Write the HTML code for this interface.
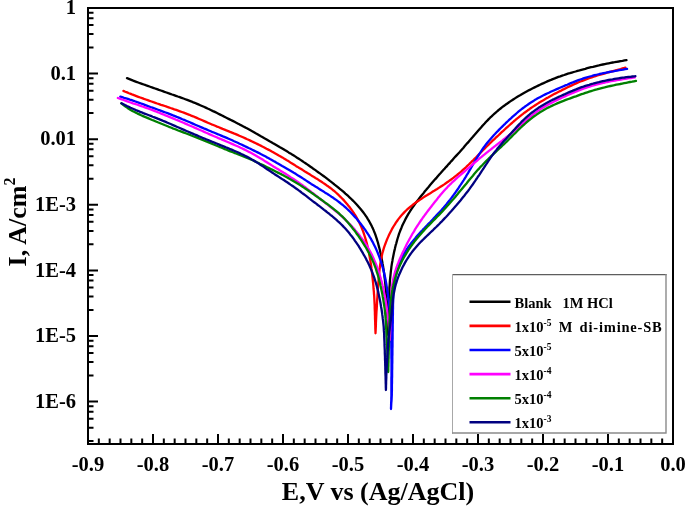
<!DOCTYPE html>
<html><head><meta charset="utf-8"><style>
html,body{margin:0;padding:0;background:#fff;}
svg{display:block;}
text{font-family:"Liberation Serif","Times New Roman",serif;font-weight:bold;fill:#000;}
</style></head><body>
<svg width="685" height="509" viewBox="0 0 685 509">
<rect width="685" height="509" fill="#fff"/>
<g font-size="20.5">
<text x="88.0" y="471" text-anchor="middle">-0.9</text><text x="153.0" y="471" text-anchor="middle">-0.8</text><text x="218.0" y="471" text-anchor="middle">-0.7</text><text x="283.0" y="471" text-anchor="middle">-0.6</text><text x="348.0" y="471" text-anchor="middle">-0.5</text><text x="413.0" y="471" text-anchor="middle">-0.4</text><text x="478.0" y="471" text-anchor="middle">-0.3</text><text x="543.0" y="471" text-anchor="middle">-0.2</text><text x="608.0" y="471" text-anchor="middle">-0.1</text><text x="673.0" y="471" text-anchor="middle">0.0</text>
<text x="76" y="14.2" text-anchor="end">1</text><text x="76" y="79.8" text-anchor="end">0.1</text><text x="76" y="145.4" text-anchor="end">0.01</text><text x="76" y="211.0" text-anchor="end">1E-3</text><text x="76" y="276.6" text-anchor="end">1E-4</text><text x="76" y="342.2" text-anchor="end">1E-5</text><text x="76" y="407.8" text-anchor="end">1E-6</text>
</g>
<g>
<polyline points="127.0,78.2 128.9,78.9 130.7,79.6 132.6,80.4 134.4,81.1 136.3,81.8 138.2,82.5 140.0,83.2 141.9,83.8 143.8,84.5 145.7,85.2 147.6,85.8 149.5,86.5 151.3,87.2 153.2,87.8 155.1,88.5 157.0,89.2 158.9,89.9 160.8,90.5 162.7,91.2 164.5,91.9 166.4,92.5 168.3,93.2 170.2,93.8 172.1,94.5 174.0,95.1 175.9,95.8 177.8,96.5 179.7,97.1 181.6,97.8 183.5,98.5 185.3,99.2 187.2,99.9 189.1,100.6 191.0,101.3 192.8,102.1 194.7,102.8 196.5,103.6 198.4,104.4 200.2,105.2 202.0,106.0 203.9,106.8 205.7,107.6 207.5,108.5 209.3,109.3 211.2,110.2 213.0,111.1 214.8,111.9 216.6,112.8 218.4,113.7 220.2,114.6 222.0,115.5 223.8,116.4 225.5,117.3 227.3,118.2 229.1,119.1 230.9,120.0 232.7,120.9 234.5,121.8 236.3,122.8 238.1,123.7 239.8,124.6 241.6,125.5 243.4,126.5 245.2,127.4 246.9,128.3 248.7,129.3 250.5,130.3 252.2,131.2 254.0,132.2 255.7,133.2 257.5,134.2 259.2,135.2 260.9,136.2 262.7,137.2 264.4,138.2 266.2,139.2 267.9,140.2 269.6,141.2 271.4,142.2 273.1,143.2 274.9,144.2 276.6,145.2 278.3,146.2 280.0,147.2 281.8,148.2 283.5,149.2 285.2,150.3 286.9,151.3 288.6,152.4 290.4,153.4 292.1,154.5 293.8,155.5 295.5,156.6 297.1,157.7 298.8,158.8 300.5,159.9 302.2,161.0 303.8,162.1 305.5,163.2 307.2,164.4 308.8,165.5 310.5,166.7 312.1,167.8 313.7,169.0 315.4,170.1 317.0,171.3 318.6,172.5 320.3,173.6 321.9,174.8 323.5,176.0 325.1,177.2 326.7,178.4 328.3,179.6 329.9,180.9 331.5,182.1 333.1,183.3 334.6,184.6 336.2,185.8 337.8,187.1 339.3,188.4 340.8,189.6 342.4,190.9 343.9,192.2 345.4,193.6 346.9,194.9 348.4,196.2 349.8,197.6 351.3,199.0 352.7,200.4 354.1,201.8 355.5,203.2 356.9,204.7 358.2,206.2 359.5,207.7 360.8,209.2 362.0,210.7 363.2,212.3 364.4,213.9 365.6,215.6 366.7,217.2 367.7,218.9 368.8,220.6 369.7,222.3 370.7,224.1 371.6,225.8 372.4,227.6 373.3,229.4 374.0,231.2 374.8,233.1 375.5,235.0 376.1,236.8 376.7,238.7 377.3,240.6 377.9,242.5 378.4,244.5 378.9,246.4 379.4,248.3 379.9,250.3 380.3,252.2 380.8,254.2 381.2,256.2 381.6,258.1 381.9,260.1 382.3,262.1 382.6,264.0 383.0,266.0 383.3,268.0 383.6,270.0 383.9,272.0 384.2,274.0 384.4,275.9 384.6,277.9 384.9,279.9 385.1,281.9 385.3,283.9 385.5,285.9 385.6,287.9 385.8,289.9 386.0,291.9 386.1,293.9 386.3,295.9 386.4,297.9 386.6,299.9 386.7,301.9 386.8,303.9 387.0,305.9 387.1,307.9 387.2,309.9 387.3,311.9 387.4,313.9 387.5,315.9 387.6,318.0 387.7,320.0 387.7,322.0 387.8,324.0 387.9,326.0 388.0,328.0 388.0,330.0 388.1,332.0 388.2,334.0 388.2,335.0 388.3,333.0 388.3,331.0 388.4,329.0 388.4,327.0 388.5,325.0 388.5,323.0 388.6,320.9 388.6,318.9 388.7,316.9 388.7,314.9 388.7,312.9 388.8,310.9 388.8,308.9 388.9,306.9 388.9,304.9 389.0,302.9 389.0,300.9 389.1,298.9 389.1,296.9 389.2,294.8 389.3,292.8 389.4,290.8 389.4,288.8 389.5,286.8 389.7,284.8 389.8,282.8 389.9,280.8 390.1,278.8 390.3,276.8 390.5,274.8 390.7,272.8 390.9,270.8 391.2,268.8 391.4,266.9 391.7,264.9 392.0,262.9 392.4,260.9 392.7,258.9 393.1,257.0 393.5,255.0 393.9,253.0 394.3,251.1 394.8,249.1 395.2,247.2 395.7,245.2 396.3,243.3 396.8,241.4 397.3,239.5 397.9,237.5 398.5,235.6 399.1,233.7 399.8,231.9 400.5,230.0 401.3,228.2 402.0,226.3 402.8,224.5 403.7,222.7 404.6,220.9 405.5,219.1 406.4,217.4 407.4,215.6 408.4,213.9 409.5,212.2 410.5,210.5 411.6,208.9 412.8,207.2 413.9,205.6 415.1,203.9 416.3,202.3 417.5,200.7 418.7,199.1 419.9,197.5 421.1,196.0 422.4,194.4 423.7,192.9 424.9,191.3 426.2,189.8 427.5,188.2 428.8,186.7 430.1,185.1 431.4,183.6 432.7,182.1 434.0,180.6 435.3,179.1 436.7,177.6 438.0,176.0 439.3,174.5 440.7,173.0 442.0,171.5 443.3,170.0 444.7,168.6 446.0,167.1 447.4,165.6 448.7,164.1 450.1,162.6 451.4,161.1 452.8,159.6 454.1,158.1 455.4,156.6 456.8,155.1 458.1,153.7 459.5,152.2 460.8,150.7 462.1,149.2 463.5,147.7 464.8,146.1 466.1,144.6 467.4,143.1 468.8,141.6 470.1,140.1 471.4,138.6 472.7,137.1 474.0,135.5 475.3,134.0 476.6,132.5 477.9,131.0 479.2,129.5 480.6,127.9 481.9,126.4 483.2,125.0 484.6,123.5 485.9,122.0 487.3,120.6 488.7,119.1 490.1,117.7 491.6,116.4 493.0,115.0 494.5,113.6 496.0,112.3 497.5,111.0 499.1,109.7 500.6,108.5 502.2,107.2 503.8,106.0 505.4,104.8 507.0,103.7 508.7,102.5 510.3,101.4 512.0,100.3 513.6,99.2 515.3,98.1 517.0,97.0 518.7,96.0 520.5,95.0 522.2,94.0 523.9,93.0 525.7,92.0 527.5,91.0 529.2,90.1 531.0,89.2 532.8,88.3 534.6,87.4 536.4,86.5 538.2,85.6 540.0,84.7 541.8,83.9 543.6,83.1 545.5,82.2 547.3,81.4 549.1,80.6 551.0,79.9 552.8,79.1 554.7,78.4 556.6,77.6 558.4,76.9 560.3,76.3 562.2,75.6 564.1,75.0 566.0,74.3 567.9,73.7 569.8,73.2 571.8,72.6 573.7,72.0 575.6,71.5 577.5,70.9 579.5,70.4 581.4,69.8 583.3,69.3 585.3,68.8 587.2,68.2 589.2,67.7 591.1,67.2 593.0,66.8 595.0,66.3 596.9,65.8 598.9,65.4 600.9,64.9 602.8,64.5 604.8,64.1 606.8,63.7 608.7,63.3 610.7,62.9 612.7,62.5 614.6,62.2 616.6,61.8 618.6,61.5 620.6,61.1 622.5,60.8 624.5,60.4 626.5,60.1" fill="none" stroke="#000000" stroke-width="2.3" stroke-linejoin="round" stroke-linecap="round"/><polyline points="123.4,90.9 125.3,91.7 127.1,92.4 129.0,93.2 130.8,93.9 132.7,94.7 134.6,95.4 136.4,96.1 138.3,96.8 140.2,97.5 142.1,98.2 144.0,98.9 145.8,99.5 147.7,100.2 149.6,100.9 151.5,101.5 153.4,102.2 155.3,102.8 157.2,103.5 159.1,104.1 161.0,104.8 162.9,105.4 164.8,106.0 166.7,106.7 168.6,107.3 170.5,108.0 172.4,108.6 174.3,109.3 176.2,109.9 178.1,110.6 180.0,111.3 181.9,112.0 183.8,112.7 185.6,113.4 187.5,114.1 189.4,114.8 191.2,115.6 193.1,116.3 195.0,117.1 196.8,117.9 198.6,118.7 200.5,119.5 202.3,120.3 204.2,121.1 206.0,121.9 207.8,122.7 209.7,123.5 211.5,124.3 213.4,125.0 215.2,125.8 217.1,126.6 218.9,127.3 220.8,128.1 222.6,128.9 224.5,129.6 226.4,130.4 228.2,131.1 230.1,131.9 231.9,132.6 233.8,133.4 235.7,134.1 237.5,134.9 239.3,135.7 241.2,136.5 243.0,137.3 244.9,138.1 246.7,139.0 248.5,139.8 250.3,140.6 252.1,141.5 254.0,142.4 255.8,143.2 257.6,144.1 259.4,145.0 261.2,145.9 262.9,146.8 264.7,147.7 266.5,148.7 268.3,149.6 270.1,150.5 271.8,151.5 273.6,152.5 275.3,153.4 277.1,154.4 278.8,155.4 280.6,156.4 282.3,157.4 284.0,158.5 285.7,159.5 287.4,160.6 289.1,161.6 290.8,162.7 292.5,163.7 294.2,164.8 295.9,165.9 297.6,166.9 299.3,168.0 301.1,169.1 302.8,170.1 304.5,171.2 306.2,172.2 307.9,173.3 309.6,174.3 311.3,175.4 313.0,176.4 314.7,177.5 316.4,178.6 318.1,179.6 319.8,180.7 321.5,181.8 323.1,182.9 324.8,184.0 326.4,185.2 328.1,186.3 329.7,187.5 331.3,188.7 332.8,190.0 334.4,191.2 335.9,192.5 337.4,193.9 338.8,195.2 340.2,196.6 341.6,198.0 343.0,199.4 344.4,200.9 345.7,202.4 347.0,203.9 348.2,205.5 349.5,207.0 350.7,208.6 351.8,210.2 353.0,211.9 354.1,213.5 355.2,215.2 356.2,216.9 357.2,218.6 358.1,220.4 359.1,222.1 359.9,223.9 360.8,225.7 361.6,227.5 362.3,229.4 363.0,231.2 363.7,233.1 364.3,235.0 364.9,236.9 365.5,238.8 366.1,240.7 366.6,242.6 367.1,244.6 367.6,246.5 368.0,248.5 368.5,250.4 368.9,252.4 369.2,254.4 369.6,256.3 369.9,258.3 370.3,260.3 370.6,262.3 370.9,264.2 371.2,266.2 371.4,268.2 371.7,270.2 371.9,272.2 372.2,274.2 372.4,276.2 372.6,278.2 372.8,280.2 373.0,282.2 373.2,284.2 373.4,286.2 373.5,288.2 373.7,290.2 373.9,292.2 374.0,294.2 374.2,296.2 374.3,298.2 374.4,300.2 374.5,302.2 374.6,304.2 374.7,306.2 374.7,308.2 374.8,310.2 374.9,312.2 374.9,314.2 375.0,316.2 375.0,318.2 375.1,320.3 375.2,322.3 375.2,324.3 375.3,326.3 375.3,328.3 375.4,330.3 375.5,332.3 375.5,333.3 375.6,331.3 375.7,329.3 375.8,327.3 375.9,325.3 375.9,323.3 376.0,321.3 376.1,319.3 376.2,317.3 376.3,315.3 376.4,313.2 376.5,311.2 376.7,309.2 376.8,307.2 376.9,305.2 377.0,303.2 377.1,301.2 377.2,299.2 377.4,297.2 377.5,295.2 377.6,293.2 377.8,291.2 377.9,289.2 378.0,287.2 378.2,285.2 378.3,283.2 378.5,281.2 378.7,279.2 378.8,277.2 379.0,275.2 379.2,273.2 379.4,271.2 379.6,269.2 379.9,267.2 380.1,265.2 380.4,263.3 380.7,261.3 381.1,259.3 381.5,257.4 381.9,255.4 382.3,253.5 382.9,251.5 383.4,249.6 384.0,247.7 384.6,245.8 385.3,244.0 386.0,242.1 386.7,240.3 387.5,238.4 388.3,236.6 389.1,234.8 390.0,233.0 390.9,231.2 391.8,229.4 392.8,227.7 393.8,226.0 394.9,224.3 395.9,222.7 397.1,221.0 398.2,219.4 399.4,217.9 400.7,216.3 402.0,214.8 403.3,213.4 404.7,211.9 406.1,210.5 407.5,209.2 409.0,207.9 410.5,206.6 412.1,205.4 413.6,204.1 415.2,203.0 416.9,201.8 418.5,200.7 420.2,199.6 421.8,198.5 423.5,197.4 425.2,196.3 426.9,195.3 428.6,194.2 430.3,193.2 432.0,192.1 433.7,191.1 435.4,190.0 437.1,189.0 438.8,187.9 440.5,186.8 442.2,185.7 443.9,184.6 445.5,183.5 447.2,182.3 448.8,181.2 450.4,180.0 452.0,178.8 453.6,177.6 455.2,176.3 456.8,175.1 458.3,173.8 459.9,172.6 461.4,171.3 462.9,169.9 464.4,168.6 465.9,167.3 467.3,165.9 468.8,164.5 470.2,163.1 471.6,161.7 473.1,160.3 474.5,158.9 475.9,157.5 477.3,156.0 478.7,154.6 480.1,153.2 481.5,151.7 482.9,150.3 484.3,148.9 485.7,147.4 487.2,146.0 488.6,144.6 490.0,143.2 491.5,141.8 492.9,140.4 494.4,139.1 495.8,137.7 497.3,136.3 498.8,135.0 500.2,133.6 501.7,132.2 503.2,130.9 504.7,129.5 506.1,128.2 507.6,126.8 509.1,125.5 510.6,124.2 512.1,122.8 513.6,121.5 515.2,120.2 516.7,118.9 518.3,117.7 519.8,116.4 521.4,115.1 523.0,113.9 524.5,112.7 526.2,111.5 527.8,110.3 529.4,109.2 531.0,108.0 532.7,106.9 534.4,105.8 536.0,104.7 537.7,103.6 539.4,102.5 541.1,101.5 542.9,100.5 544.6,99.5 546.3,98.4 548.1,97.5 549.8,96.5 551.6,95.5 553.3,94.6 555.1,93.6 556.9,92.7 558.7,91.8 560.5,90.9 562.2,89.9 564.0,89.1 565.8,88.2 567.6,87.3 569.5,86.4 571.3,85.6 573.1,84.7 574.9,83.9 576.7,83.1 578.6,82.3 580.4,81.5 582.3,80.8 584.2,80.1 586.0,79.4 587.9,78.7 589.8,78.0 591.7,77.4 593.6,76.7 595.5,76.1 597.4,75.5 599.3,75.0 601.3,74.4 603.2,73.8 605.1,73.3 607.0,72.7 609.0,72.2 610.9,71.7 612.8,71.1 614.8,70.6 616.7,70.0 618.6,69.5 620.6,69.0 622.5,68.4 624.4,67.9 625.4,67.6" fill="none" stroke="#ff0000" stroke-width="2.3" stroke-linejoin="round" stroke-linecap="round"/><polyline points="120.3,96.6 122.2,97.2 124.1,97.8 126.0,98.3 127.9,98.9 129.8,99.6 131.7,100.2 133.6,100.8 135.4,101.5 137.3,102.2 139.2,102.8 141.1,103.5 143.0,104.2 144.8,104.9 146.7,105.6 148.6,106.3 150.5,107.0 152.4,107.6 154.3,108.3 156.2,109.0 158.0,109.7 159.9,110.4 161.8,111.1 163.7,111.8 165.6,112.5 167.5,113.2 169.3,113.9 171.2,114.6 173.1,115.4 174.9,116.1 176.8,116.9 178.7,117.6 180.5,118.4 182.4,119.2 184.2,119.9 186.1,120.7 187.9,121.5 189.8,122.3 191.6,123.1 193.4,123.9 195.3,124.7 197.1,125.5 199.0,126.3 200.8,127.1 202.7,127.9 204.5,128.7 206.4,129.4 208.2,130.2 210.1,131.0 211.9,131.8 213.8,132.5 215.6,133.3 217.5,134.1 219.3,134.8 221.2,135.6 223.0,136.4 224.9,137.1 226.7,137.9 228.6,138.7 230.4,139.5 232.2,140.3 234.1,141.2 235.9,142.0 237.7,142.8 239.5,143.7 241.4,144.5 243.2,145.4 245.0,146.2 246.8,147.1 248.6,148.0 250.4,148.8 252.2,149.7 254.0,150.6 255.8,151.5 257.6,152.4 259.4,153.3 261.2,154.3 263.0,155.2 264.7,156.1 266.5,157.1 268.3,158.0 270.0,159.0 271.8,160.0 273.5,161.0 275.3,161.9 277.0,162.9 278.8,163.9 280.5,164.9 282.2,165.9 284.0,166.9 285.7,167.9 287.4,168.9 289.2,170.0 290.9,171.0 292.6,172.0 294.3,173.1 296.0,174.1 297.7,175.2 299.4,176.2 301.1,177.3 302.8,178.4 304.5,179.5 306.2,180.6 307.9,181.7 309.5,182.8 311.2,183.9 312.9,184.9 314.6,186.0 316.3,187.1 318.0,188.1 319.7,189.2 321.4,190.3 323.1,191.3 324.8,192.4 326.5,193.4 328.2,194.5 329.9,195.6 331.5,196.7 333.2,197.8 334.8,199.0 336.5,200.1 338.1,201.3 339.6,202.5 341.2,203.8 342.8,205.0 344.3,206.3 345.8,207.7 347.2,209.0 348.7,210.4 350.1,211.8 351.5,213.2 352.9,214.7 354.2,216.1 355.6,217.6 356.9,219.1 358.2,220.7 359.4,222.2 360.7,223.8 361.9,225.4 363.1,227.0 364.3,228.6 365.4,230.2 366.5,231.9 367.6,233.5 368.7,235.2 369.7,236.9 370.8,238.6 371.7,240.4 372.7,242.1 373.6,243.9 374.5,245.7 375.4,247.5 376.2,249.3 377.0,251.1 377.8,253.0 378.5,254.8 379.2,256.7 379.9,258.6 380.6,260.5 381.2,262.4 381.8,264.3 382.3,266.2 382.9,268.1 383.4,270.1 383.9,272.0 384.3,274.0 384.7,275.9 385.2,277.9 385.6,279.8 385.9,281.8 386.3,283.8 386.6,285.8 386.9,287.7 387.2,289.7 387.5,291.7 387.8,293.7 388.1,295.7 388.3,297.7 388.6,299.7 388.8,301.7 389.0,303.7 389.2,305.7 389.4,307.7 389.6,309.7 389.8,311.7 390.0,313.6 390.1,315.7 390.3,317.7 390.4,319.7 390.6,321.7 390.7,323.7 390.8,325.7 390.9,327.7 391.0,329.7 391.0,331.7 391.1,333.7 391.1,335.7 391.2,337.7 391.2,339.7 391.2,341.7 391.3,343.7 391.3,345.7 391.3,347.7 391.4,349.8 391.4,351.8 391.4,353.8 391.4,355.8 391.4,357.8 391.5,359.8 391.5,361.8 391.5,363.8 391.5,365.8 391.5,367.8 391.5,369.8 391.5,371.8 391.5,373.9 391.5,375.9 391.4,377.9 391.4,379.9 391.4,381.9 391.4,383.9 391.4,385.9 391.4,387.9 391.4,389.9 391.4,391.9 391.4,393.9 391.4,395.9 391.3,398.0 391.3,400.0 391.2,402.0 391.1,404.0 391.1,406.0 391.0,408.0 391.0,409.0 391.1,407.0 391.2,405.0 391.3,403.0 391.5,401.0 391.6,399.0 391.7,397.0 391.8,395.0 391.8,393.0 391.9,391.0 391.9,388.9 391.9,386.9 391.9,384.9 392.0,382.9 392.0,380.9 392.0,378.9 392.1,376.9 392.1,374.9 392.1,372.9 392.1,370.9 392.2,368.9 392.2,366.9 392.2,364.8 392.3,362.8 392.3,360.8 392.3,358.8 392.3,356.8 392.4,354.8 392.4,352.8 392.4,350.8 392.4,348.8 392.5,346.8 392.5,344.8 392.5,342.8 392.5,340.8 392.6,338.7 392.6,336.7 392.6,334.7 392.6,332.7 392.7,330.7 392.7,328.7 392.7,326.7 392.7,324.7 392.8,322.7 392.8,320.7 392.8,318.7 392.8,316.7 392.9,314.7 392.9,312.6 392.9,310.6 393.0,308.6 393.0,306.6 393.0,304.6 393.1,302.6 393.2,300.6 393.2,298.6 393.3,296.6 393.4,294.6 393.6,292.6 393.7,290.6 393.9,288.6 394.1,286.6 394.3,284.7 394.6,282.7 394.9,280.7 395.2,278.7 395.6,276.8 396.0,274.8 396.5,272.9 397.0,271.0 397.5,269.1 398.1,267.2 398.7,265.3 399.4,263.5 400.1,261.6 400.9,259.8 401.7,258.0 402.6,256.3 403.6,254.5 404.6,252.8 405.6,251.1 406.7,249.4 407.8,247.8 408.9,246.2 410.1,244.6 411.3,243.0 412.6,241.4 413.8,239.9 415.1,238.4 416.4,236.8 417.7,235.3 419.1,233.8 420.4,232.4 421.8,230.9 423.1,229.4 424.5,228.0 425.9,226.5 427.3,225.1 428.7,223.6 430.1,222.2 431.5,220.7 432.9,219.3 434.2,217.8 435.6,216.4 437.0,214.9 438.4,213.4 439.7,212.0 441.1,210.5 442.4,209.0 443.7,207.5 445.0,205.9 446.3,204.4 447.6,202.8 448.8,201.3 450.1,199.7 451.3,198.1 452.5,196.5 453.7,194.9 454.9,193.3 456.0,191.7 457.2,190.0 458.3,188.4 459.4,186.7 460.5,185.0 461.6,183.3 462.7,181.7 463.8,180.0 464.8,178.3 465.9,176.6 466.9,174.8 468.0,173.1 469.0,171.4 470.0,169.7 471.0,167.9 472.0,166.2 473.0,164.5 474.1,162.7 475.1,161.0 476.1,159.3 477.1,157.6 478.2,155.9 479.2,154.2 480.3,152.5 481.4,150.8 482.5,149.2 483.7,147.5 484.9,145.9 486.1,144.3 487.3,142.8 488.6,141.2 489.9,139.7 491.2,138.2 492.5,136.7 493.8,135.2 495.2,133.8 496.6,132.3 498.0,130.9 499.4,129.4 500.8,128.0 502.2,126.6 503.6,125.2 505.1,123.8 506.5,122.4 508.0,121.0 509.4,119.6 510.9,118.3 512.4,116.9 513.9,115.6 515.4,114.3 516.9,113.0 518.4,111.7 520.0,110.4 521.6,109.2 523.1,108.0 524.7,106.8 526.4,105.6 528.0,104.5 529.7,103.3 531.3,102.3 533.0,101.2 534.7,100.1 536.5,99.1 538.2,98.1 539.9,97.2 541.7,96.2 543.5,95.3 545.3,94.4 547.1,93.5 548.9,92.7 550.7,91.8 552.5,91.0 554.3,90.2 556.2,89.4 558.0,88.6 559.9,87.8 561.7,87.0 563.5,86.2 565.4,85.4 567.2,84.7 569.1,83.9 570.9,83.1 572.8,82.4 574.7,81.6 576.5,80.9 578.4,80.2 580.3,79.5 582.2,78.9 584.1,78.2 586.0,77.6 587.9,77.0 589.8,76.5 591.7,76.0 593.6,75.4 595.6,75.0 597.5,74.5 599.5,74.0 601.4,73.6 603.4,73.2 605.4,72.8 607.3,72.4 609.3,72.0 611.3,71.6 613.3,71.3 615.2,70.9 617.2,70.6 619.2,70.2 621.2,69.9 623.1,69.6 625.1,69.2 627.1,68.9" fill="none" stroke="#0000ff" stroke-width="2.3" stroke-linejoin="round" stroke-linecap="round"/><polyline points="117.9,98.0 119.8,98.7 121.7,99.3 123.5,100.0 125.4,100.7 127.3,101.3 129.2,102.0 131.1,102.6 133.0,103.3 134.9,103.9 136.8,104.5 138.7,105.2 140.5,105.8 142.4,106.5 144.3,107.1 146.2,107.8 148.1,108.5 150.0,109.2 151.9,109.9 153.7,110.6 155.6,111.3 157.5,112.1 159.3,112.8 161.2,113.6 163.1,114.3 164.9,115.1 166.8,115.8 168.6,116.6 170.5,117.4 172.3,118.1 174.2,118.9 176.1,119.7 177.9,120.4 179.8,121.2 181.6,122.0 183.5,122.8 185.3,123.6 187.2,124.4 189.0,125.2 190.8,126.0 192.7,126.8 194.5,127.6 196.4,128.4 198.2,129.2 200.0,130.0 201.9,130.8 203.7,131.6 205.5,132.5 207.4,133.3 209.2,134.1 211.0,134.9 212.9,135.7 214.7,136.5 216.6,137.3 218.4,138.1 220.3,138.8 222.1,139.6 224.0,140.4 225.8,141.2 227.7,142.0 229.5,142.8 231.4,143.6 233.2,144.4 235.0,145.2 236.9,146.0 238.7,146.8 240.5,147.7 242.3,148.5 244.1,149.4 245.9,150.3 247.7,151.2 249.5,152.1 251.3,153.1 253.0,154.0 254.8,155.0 256.5,156.0 258.2,157.0 259.9,158.0 261.7,159.1 263.4,160.1 265.1,161.2 266.8,162.2 268.4,163.3 270.1,164.3 271.8,165.4 273.5,166.5 275.2,167.5 276.9,168.6 278.6,169.6 280.4,170.7 282.1,171.7 283.8,172.8 285.5,173.8 287.2,174.9 288.9,176.0 290.5,177.1 292.2,178.2 293.9,179.3 295.6,180.4 297.2,181.5 298.9,182.6 300.5,183.8 302.1,185.0 303.7,186.2 305.4,187.3 306.9,188.6 308.5,189.8 310.1,191.0 311.7,192.3 313.3,193.5 314.8,194.7 316.4,196.0 318.0,197.2 319.5,198.5 321.1,199.7 322.7,200.9 324.3,202.2 325.9,203.4 327.5,204.6 329.1,205.8 330.6,207.1 332.2,208.3 333.8,209.6 335.3,210.8 336.9,212.1 338.4,213.4 339.9,214.7 341.4,216.0 342.9,217.4 344.3,218.7 345.8,220.1 347.2,221.5 348.6,223.0 350.0,224.4 351.4,225.9 352.7,227.3 354.1,228.8 355.4,230.4 356.7,231.9 357.9,233.4 359.2,235.0 360.4,236.6 361.6,238.1 362.8,239.8 364.0,241.4 365.1,243.0 366.2,244.7 367.2,246.4 368.2,248.1 369.2,249.8 370.2,251.6 371.1,253.3 372.1,255.1 372.9,256.9 373.7,258.7 374.5,260.6 375.3,262.4 376.0,264.3 376.8,266.1 377.4,268.0 378.1,269.9 378.7,271.8 379.3,273.7 379.9,275.6 380.5,277.6 381.0,279.5 381.6,281.4 382.1,283.4 382.5,285.3 383.0,287.3 383.4,289.2 383.8,291.2 384.2,293.2 384.6,295.1 385.0,297.1 385.3,299.1 385.7,301.1 386.0,303.1 386.3,305.0 386.6,307.0 386.9,309.0 387.1,311.0 387.4,313.0 387.7,315.0 387.9,317.0 388.1,319.0 388.3,321.0 388.5,323.0 388.7,325.0 388.9,327.0 389.1,329.0 389.2,331.0 389.4,333.0 389.5,335.0 389.6,337.0 389.7,339.0 389.8,340.0 389.9,338.0 390.0,336.0 390.1,334.0 390.2,332.0 390.2,330.0 390.3,328.0 390.3,325.9 390.4,323.9 390.4,321.9 390.5,319.9 390.5,317.9 390.5,315.9 390.6,313.9 390.6,311.9 390.7,309.9 390.7,307.9 390.8,305.9 390.8,303.9 390.9,301.8 391.0,299.8 391.1,297.8 391.2,295.8 391.3,293.8 391.5,291.8 391.7,289.8 391.9,287.8 392.1,285.8 392.4,283.9 392.7,281.9 393.1,279.9 393.5,278.0 394.0,276.0 394.5,274.1 395.0,272.2 395.6,270.3 396.2,268.4 396.9,266.5 397.5,264.6 398.3,262.7 399.0,260.9 399.8,259.0 400.6,257.2 401.4,255.4 402.2,253.6 403.1,251.8 404.0,250.0 404.8,248.2 405.7,246.4 406.6,244.6 407.5,242.8 408.5,241.0 409.4,239.3 410.4,237.5 411.4,235.7 412.3,234.0 413.4,232.3 414.4,230.6 415.4,228.8 416.5,227.1 417.6,225.5 418.7,223.8 419.8,222.1 420.9,220.5 422.1,218.8 423.2,217.2 424.4,215.6 425.6,214.0 426.8,212.4 428.0,210.8 429.2,209.2 430.5,207.6 431.7,206.0 432.9,204.4 434.2,202.8 435.4,201.3 436.7,199.7 437.9,198.1 439.2,196.6 440.4,195.0 441.7,193.5 443.0,192.0 444.3,190.5 445.7,189.0 447.1,187.6 448.4,186.1 449.8,184.7 451.3,183.3 452.7,181.9 454.2,180.6 455.7,179.2 457.1,177.9 458.6,176.5 460.2,175.2 461.7,173.9 463.2,172.6 464.7,171.3 466.2,170.0 467.7,168.6 469.3,167.3 470.8,166.0 472.3,164.7 473.8,163.4 475.3,162.1 476.9,160.8 478.4,159.5 479.9,158.2 481.5,156.9 483.0,155.6 484.6,154.4 486.1,153.1 487.7,151.8 489.3,150.6 490.9,149.4 492.4,148.1 494.0,146.9 495.6,145.7 497.2,144.4 498.8,143.2 500.4,142.0 502.0,140.8 503.6,139.5 505.1,138.3 506.7,137.0 508.3,135.8 509.8,134.5 511.4,133.2 512.9,132.0 514.5,130.7 516.0,129.4 517.5,128.0 519.0,126.7 520.5,125.4 522.0,124.1 523.5,122.7 525.0,121.4 526.5,120.1 528.0,118.8 529.5,117.5 531.0,116.2 532.6,114.9 534.1,113.7 535.7,112.5 537.3,111.3 539.0,110.2 540.6,109.1 542.3,108.0 544.0,107.0 545.7,106.0 547.5,105.0 549.2,104.0 551.0,103.1 552.8,102.2 554.5,101.3 556.3,100.4 558.2,99.5 560.0,98.7 561.8,97.8 563.6,97.0 565.4,96.2 567.3,95.3 569.1,94.5 570.9,93.7 572.8,92.9 574.6,92.1 576.5,91.4 578.3,90.6 580.2,89.9 582.1,89.2 584.0,88.5 585.8,87.9 587.7,87.2 589.6,86.6 591.6,86.0 593.5,85.5 595.4,84.9 597.3,84.4 599.3,83.9 601.2,83.4 603.2,82.9 605.1,82.5 607.1,82.0 609.1,81.6 611.0,81.2 613.0,80.8 615.0,80.5 616.9,80.1 618.9,79.8 620.9,79.5 622.9,79.1 624.9,78.8 626.8,78.5 628.8,78.2 630.8,78.0 632.8,77.7 634.8,77.4" fill="none" stroke="#ff00ff" stroke-width="2.3" stroke-linejoin="round" stroke-linecap="round"/><polyline points="121.2,103.4 122.8,104.5 124.3,105.7 125.9,106.8 127.5,107.9 129.1,108.9 130.7,109.9 132.4,110.9 134.1,111.8 135.9,112.7 137.6,113.6 139.4,114.4 141.2,115.3 143.0,116.1 144.9,116.9 146.7,117.6 148.5,118.4 150.4,119.2 152.2,120.0 154.1,120.7 155.9,121.5 157.8,122.3 159.6,123.0 161.5,123.8 163.3,124.5 165.2,125.3 167.0,126.0 168.9,126.8 170.8,127.5 172.6,128.3 174.5,129.0 176.4,129.7 178.2,130.5 180.1,131.2 182.0,131.9 183.9,132.6 185.7,133.3 187.6,134.0 189.5,134.7 191.4,135.5 193.2,136.2 195.1,136.9 197.0,137.6 198.8,138.4 200.7,139.1 202.6,139.9 204.4,140.6 206.3,141.4 208.1,142.1 210.0,142.9 211.8,143.7 213.7,144.5 215.5,145.2 217.4,146.0 219.2,146.8 221.1,147.5 222.9,148.3 224.8,149.1 226.6,149.8 228.5,150.6 230.4,151.3 232.2,152.0 234.1,152.8 236.0,153.5 237.8,154.2 239.7,155.0 241.6,155.7 243.4,156.4 245.3,157.2 247.1,158.0 249.0,158.7 250.8,159.5 252.7,160.3 254.5,161.1 256.3,162.0 258.1,162.8 259.9,163.7 261.7,164.5 263.5,165.4 265.3,166.3 267.1,167.2 268.9,168.1 270.7,169.0 272.5,169.9 274.3,170.8 276.1,171.7 277.9,172.6 279.7,173.5 281.5,174.4 283.2,175.3 285.0,176.3 286.8,177.2 288.5,178.2 290.3,179.2 292.0,180.2 293.7,181.2 295.4,182.2 297.1,183.3 298.8,184.3 300.5,185.4 302.2,186.5 303.9,187.6 305.6,188.7 307.2,189.8 308.9,191.0 310.5,192.1 312.2,193.3 313.8,194.4 315.4,195.6 317.1,196.7 318.7,197.9 320.3,199.0 322.0,200.2 323.6,201.4 325.2,202.6 326.8,203.7 328.4,204.9 330.0,206.1 331.6,207.3 333.2,208.6 334.7,209.8 336.3,211.1 337.8,212.4 339.3,213.7 340.7,215.1 342.2,216.4 343.6,217.8 345.0,219.3 346.3,220.7 347.7,222.2 349.0,223.7 350.2,225.2 351.5,226.8 352.7,228.4 354.0,229.9 355.2,231.5 356.3,233.2 357.5,234.8 358.7,236.4 359.8,238.1 360.9,239.7 362.0,241.4 363.1,243.1 364.2,244.8 365.2,246.5 366.3,248.2 367.2,249.9 368.2,251.7 369.2,253.4 370.1,255.2 371.0,257.0 371.8,258.8 372.6,260.6 373.4,262.4 374.2,264.3 374.9,266.1 375.6,268.0 376.2,269.9 376.8,271.8 377.4,273.7 378.0,275.6 378.5,277.5 379.0,279.4 379.5,281.4 380.0,283.3 380.4,285.3 380.9,287.2 381.3,289.2 381.7,291.1 382.1,293.1 382.5,295.1 382.8,297.0 383.2,299.0 383.5,301.0 383.8,303.0 384.1,304.9 384.4,306.9 384.7,308.9 384.9,310.9 385.1,312.9 385.3,314.9 385.5,316.9 385.6,318.9 385.8,320.9 385.9,322.9 386.0,324.9 386.1,326.9 386.2,328.9 386.3,330.9 386.4,332.9 386.5,334.9 386.6,336.9 386.7,338.9 386.8,340.9 386.9,342.9 387.0,344.9 387.1,346.9 387.2,348.9 387.3,351.0 387.4,353.0 387.5,355.0 387.6,357.0 387.7,359.0 387.7,361.0 387.8,363.0 387.9,365.0 388.0,367.0 388.1,369.0 388.2,371.0 388.2,372.0 388.3,370.0 388.3,368.0 388.4,366.0 388.4,364.0 388.5,362.0 388.5,360.0 388.6,358.0 388.6,356.0 388.7,354.0 388.7,351.9 388.8,349.9 388.8,347.9 388.9,345.9 388.9,343.9 389.0,341.9 389.0,339.9 389.1,337.9 389.1,335.9 389.2,333.9 389.2,331.9 389.3,329.9 389.3,327.9 389.4,325.9 389.4,323.9 389.5,321.9 389.6,319.9 389.7,317.9 389.7,315.9 389.8,313.9 389.9,311.9 390.1,309.9 390.2,307.8 390.3,305.9 390.5,303.9 390.7,301.9 390.9,299.9 391.1,297.9 391.4,295.9 391.7,293.9 392.0,292.0 392.4,290.0 392.7,288.0 393.2,286.1 393.6,284.1 394.1,282.2 394.6,280.3 395.1,278.4 395.7,276.5 396.3,274.6 396.9,272.7 397.6,270.8 398.3,269.0 399.1,267.2 399.9,265.3 400.8,263.5 401.6,261.8 402.5,260.0 403.5,258.2 404.5,256.5 405.5,254.8 406.5,253.1 407.6,251.4 408.6,249.7 409.8,248.0 410.9,246.4 412.1,244.8 413.2,243.2 414.4,241.6 415.7,240.0 416.9,238.5 418.2,236.9 419.5,235.4 420.8,233.9 422.1,232.4 423.5,230.9 424.8,229.4 426.2,228.0 427.6,226.5 429.0,225.1 430.4,223.7 431.8,222.2 433.2,220.8 434.6,219.4 436.0,217.9 437.4,216.5 438.8,215.1 440.2,213.6 441.6,212.2 443.0,210.7 444.3,209.3 445.7,207.8 447.0,206.3 448.4,204.8 449.7,203.3 451.0,201.8 452.3,200.3 453.7,198.8 455.0,197.3 456.2,195.7 457.5,194.2 458.8,192.6 460.1,191.1 461.4,189.6 462.7,188.0 463.9,186.5 465.2,184.9 466.5,183.4 467.8,181.8 469.0,180.3 470.3,178.7 471.6,177.2 472.9,175.7 474.2,174.1 475.5,172.6 476.8,171.1 478.1,169.6 479.5,168.1 480.8,166.6 482.2,165.2 483.6,163.7 485.0,162.3 486.4,160.9 487.8,159.5 489.2,158.1 490.6,156.7 492.1,155.3 493.6,153.9 495.0,152.6 496.5,151.2 497.9,149.8 499.4,148.5 500.9,147.1 502.3,145.7 503.8,144.4 505.2,143.0 506.7,141.6 508.1,140.2 509.5,138.8 510.9,137.4 512.3,135.9 513.7,134.5 515.2,133.1 516.6,131.7 518.0,130.3 519.4,128.9 520.9,127.5 522.3,126.1 523.8,124.8 525.3,123.5 526.8,122.2 528.3,120.9 529.9,119.6 531.5,118.4 533.0,117.2 534.6,116.0 536.3,114.9 537.9,113.7 539.6,112.6 541.3,111.6 543.0,110.5 544.7,109.5 546.4,108.6 548.2,107.6 550.0,106.7 551.8,105.9 553.6,105.0 555.4,104.2 557.2,103.4 559.1,102.6 560.9,101.9 562.8,101.2 564.6,100.4 566.5,99.7 568.4,99.0 570.3,98.3 572.1,97.6 574.0,96.9 575.9,96.3 577.8,95.6 579.7,94.9 581.6,94.2 583.5,93.6 585.4,92.9 587.3,92.3 589.2,91.7 591.1,91.1 593.0,90.5 594.9,89.9 596.8,89.4 598.8,88.8 600.7,88.3 602.6,87.8 604.6,87.4 606.5,86.9 608.5,86.4 610.4,86.0 612.4,85.6 614.4,85.2 616.3,84.7 618.3,84.3 620.2,84.0 622.2,83.6 624.2,83.2 626.2,82.8 628.1,82.4 630.1,82.0 632.1,81.7 634.0,81.3 636.0,80.9" fill="none" stroke="#008000" stroke-width="2.3" stroke-linejoin="round" stroke-linecap="round"/><polyline points="121.6,103.3 123.4,104.2 125.1,105.1 126.9,106.0 128.7,106.8 130.5,107.7 132.3,108.5 134.1,109.3 135.9,110.1 137.8,110.8 139.6,111.6 141.5,112.3 143.3,113.1 145.2,113.8 147.1,114.5 148.9,115.2 150.8,115.9 152.7,116.7 154.5,117.4 156.4,118.1 158.3,118.9 160.1,119.6 162.0,120.4 163.8,121.2 165.7,121.9 167.5,122.7 169.4,123.5 171.2,124.3 173.0,125.1 174.9,125.9 176.7,126.7 178.6,127.5 180.4,128.3 182.2,129.1 184.1,129.9 185.9,130.7 187.7,131.5 189.6,132.3 191.4,133.1 193.3,133.9 195.1,134.7 197.0,135.4 198.8,136.2 200.7,137.0 202.5,137.8 204.4,138.5 206.2,139.3 208.1,140.0 209.9,140.8 211.8,141.6 213.6,142.3 215.5,143.1 217.3,143.8 219.2,144.6 221.1,145.4 222.9,146.1 224.8,146.9 226.6,147.7 228.5,148.4 230.3,149.2 232.2,149.9 234.0,150.7 235.9,151.5 237.7,152.3 239.5,153.1 241.3,154.0 243.1,154.8 244.9,155.7 246.7,156.6 248.5,157.5 250.2,158.5 251.9,159.5 253.7,160.5 255.4,161.5 257.1,162.6 258.7,163.6 260.4,164.7 262.1,165.8 263.8,166.9 265.4,168.1 267.1,169.2 268.8,170.3 270.4,171.4 272.1,172.5 273.8,173.6 275.4,174.7 277.1,175.8 278.8,176.9 280.5,178.0 282.2,179.1 283.8,180.1 285.5,181.2 287.2,182.3 288.9,183.5 290.5,184.6 292.2,185.7 293.8,186.8 295.4,188.0 297.1,189.2 298.7,190.4 300.3,191.5 301.9,192.8 303.5,194.0 305.1,195.2 306.7,196.4 308.2,197.6 309.8,198.9 311.4,200.1 313.0,201.3 314.6,202.5 316.2,203.7 317.8,205.0 319.4,206.2 321.0,207.4 322.6,208.6 324.1,209.8 325.7,211.0 327.3,212.3 328.9,213.5 330.4,214.8 332.0,216.0 333.5,217.3 335.0,218.6 336.5,219.9 338.0,221.3 339.5,222.6 340.9,224.0 342.3,225.4 343.7,226.9 345.1,228.3 346.4,229.8 347.7,231.3 349.0,232.8 350.2,234.4 351.5,235.9 352.7,237.5 353.9,239.1 355.0,240.8 356.1,242.4 357.3,244.1 358.4,245.7 359.4,247.4 360.5,249.1 361.5,250.8 362.6,252.6 363.5,254.3 364.5,256.0 365.5,257.8 366.4,259.6 367.3,261.3 368.2,263.1 369.1,264.9 369.9,266.7 370.7,268.6 371.5,270.4 372.2,272.2 372.9,274.1 373.6,276.0 374.3,277.9 374.9,279.8 375.5,281.7 376.1,283.6 376.6,285.5 377.1,287.4 377.6,289.4 378.1,291.3 378.5,293.3 378.9,295.2 379.3,297.2 379.7,299.1 380.1,301.1 380.5,303.1 380.8,305.0 381.1,307.0 381.5,309.0 381.8,311.0 382.1,313.0 382.3,314.9 382.6,316.9 382.8,318.9 383.1,320.9 383.3,322.9 383.5,324.9 383.7,326.9 383.8,328.9 383.9,330.9 384.1,332.9 384.2,334.9 384.2,336.9 384.3,338.9 384.4,340.9 384.5,342.9 384.5,344.9 384.6,346.9 384.7,348.9 384.8,350.9 384.8,352.9 384.9,354.9 385.0,356.9 385.0,358.9 385.1,360.9 385.2,362.9 385.2,364.9 385.3,366.9 385.3,369.0 385.4,371.0 385.4,373.0 385.5,375.0 385.6,377.0 385.6,379.0 385.7,381.0 385.7,383.0 385.8,385.0 385.8,387.0 385.9,389.0 385.9,390.0 386.0,388.0 386.0,386.0 386.1,384.0 386.1,382.0 386.2,380.0 386.3,378.0 386.3,376.0 386.4,374.0 386.5,372.0 386.5,370.0 386.6,367.9 386.8,365.9 386.9,363.9 387.0,361.9 387.1,359.9 387.3,357.9 387.4,355.9 387.5,353.9 387.6,351.9 387.8,349.9 387.9,347.9 388.0,345.9 388.1,343.9 388.3,341.9 388.4,339.9 388.6,337.9 388.8,335.9 389.0,333.9 389.2,332.0 389.5,330.0 389.8,328.0 390.1,326.0 390.4,324.1 390.6,322.1 390.9,320.1 391.1,318.1 391.3,316.1 391.5,314.1 391.7,312.2 391.8,310.2 392.0,308.2 392.2,306.2 392.4,304.2 392.6,302.2 392.8,300.2 393.1,298.3 393.3,296.3 393.6,294.3 394.0,292.4 394.4,290.4 394.8,288.5 395.2,286.6 395.7,284.7 396.3,282.8 396.9,280.9 397.5,279.0 398.2,277.2 398.9,275.3 399.7,273.5 400.5,271.7 401.3,269.9 402.2,268.1 403.0,266.3 404.0,264.6 404.9,262.9 405.9,261.1 406.9,259.5 408.0,257.8 409.1,256.1 410.2,254.5 411.4,252.9 412.6,251.3 413.8,249.8 415.1,248.2 416.4,246.7 417.7,245.2 419.0,243.8 420.4,242.3 421.8,240.9 423.2,239.5 424.6,238.1 426.1,236.7 427.5,235.3 429.0,233.9 430.4,232.5 431.9,231.1 433.3,229.8 434.7,228.4 436.2,227.0 437.6,225.6 439.0,224.2 440.4,222.7 441.9,221.3 443.2,219.9 444.6,218.4 446.0,217.0 447.4,215.5 448.7,214.0 450.0,212.5 451.4,211.0 452.7,209.5 454.0,208.0 455.3,206.5 456.6,205.0 457.9,203.4 459.2,201.9 460.5,200.4 461.8,198.8 463.0,197.3 464.3,195.7 465.5,194.1 466.8,192.5 468.0,191.0 469.2,189.4 470.4,187.7 471.5,186.1 472.7,184.5 473.8,182.9 475.0,181.2 476.1,179.5 477.2,177.9 478.3,176.2 479.5,174.6 480.6,172.9 481.7,171.2 482.8,169.5 483.9,167.9 485.0,166.2 486.1,164.5 487.2,162.8 488.3,161.2 489.4,159.5 490.5,157.9 491.7,156.2 492.8,154.6 494.0,153.0 495.2,151.4 496.5,149.9 497.7,148.3 499.0,146.8 500.3,145.3 501.6,143.8 502.9,142.3 504.2,140.8 505.6,139.4 506.9,137.9 508.2,136.4 509.6,134.9 510.9,133.5 512.2,132.0 513.5,130.5 514.9,129.0 516.2,127.5 517.5,126.1 518.9,124.6 520.3,123.2 521.6,121.7 523.1,120.3 524.5,119.0 526.0,117.6 527.4,116.3 529.0,115.0 530.5,113.7 532.0,112.5 533.6,111.3 535.2,110.1 536.9,109.0 538.5,107.8 540.2,106.8 541.9,105.7 543.6,104.7 545.3,103.7 547.0,102.7 548.8,101.8 550.6,100.8 552.3,99.9 554.1,99.1 555.9,98.2 557.7,97.4 559.5,96.5 561.4,95.7 563.2,94.9 565.0,94.1 566.8,93.2 568.7,92.4 570.5,91.6 572.3,90.9 574.2,90.1 576.0,89.4 577.9,88.6 579.7,87.9 581.6,87.2 583.5,86.6 585.4,85.9 587.3,85.3 589.2,84.8 591.1,84.2 593.1,83.7 595.0,83.1 596.9,82.6 598.9,82.2 600.8,81.7 602.8,81.2 604.7,80.8 606.7,80.4 608.6,80.0 610.6,79.6 612.6,79.3 614.5,78.9 616.5,78.6 618.5,78.3 620.5,78.0 622.5,77.7 624.5,77.5 626.4,77.2 628.4,77.0 630.4,76.8 632.4,76.5 634.4,76.3 635.4,76.2" fill="none" stroke="#000080" stroke-width="2.3" stroke-linejoin="round" stroke-linecap="round"/>
</g>
<path d="M452,274.6H666.6" stroke="#5e5e5e" stroke-width="1.3" fill="none"/><path d="M452.5,274V433.6" stroke="#a8a8a8" stroke-width="1" fill="none"/><path d="M666,274V433.6M452,433H666.6" stroke="#8a8a8a" stroke-width="1.4" fill="none"/>
<g font-size="14.5">
<line x1="469.5" y1="301.8" x2="510.5" y2="301.8" stroke="#000000" stroke-width="2.6"/><text x="514.5" y="307.8">Blank &#160; 1M HCl</text><line x1="469.5" y1="325.9" x2="510.5" y2="325.9" stroke="#ff0000" stroke-width="2.6"/><text x="514.5" y="331.9">1x10<tspan dy="-6" font-size="9.5">-5</tspan><tspan dy="6"> &#160;M &#160;</tspan><tspan letter-spacing="0.8">di-imine-SB</tspan></text><line x1="469.5" y1="350.0" x2="510.5" y2="350.0" stroke="#0000ff" stroke-width="2.6"/><text x="514.5" y="356.0">5x10<tspan dy="-6" font-size="9.5">-5</tspan></text><line x1="469.5" y1="374.1" x2="510.5" y2="374.1" stroke="#ff00ff" stroke-width="2.6"/><text x="514.5" y="380.1">1x10<tspan dy="-6" font-size="9.5">-4</tspan></text><line x1="469.5" y1="398.2" x2="510.5" y2="398.2" stroke="#008000" stroke-width="2.6"/><text x="514.5" y="404.2">5x10<tspan dy="-6" font-size="9.5">-4</tspan></text><line x1="469.5" y1="422.3" x2="510.5" y2="422.3" stroke="#000080" stroke-width="2.6"/><text x="514.5" y="428.3">1x10<tspan dy="-6" font-size="9.5">-3</tspan></text>
</g>
<path d="M98.83,444V438.5 M109.67,444V438.5 M120.50,444V438.5 M131.33,444V438.5 M142.17,444V438.5 M153.00,444V434 M163.83,444V438.5 M174.67,444V438.5 M185.50,444V438.5 M196.33,444V438.5 M207.17,444V438.5 M218.00,444V434 M228.83,444V438.5 M239.67,444V438.5 M250.50,444V438.5 M261.33,444V438.5 M272.17,444V438.5 M283.00,444V434 M293.83,444V438.5 M304.67,444V438.5 M315.50,444V438.5 M326.33,444V438.5 M337.17,444V438.5 M348.00,444V434 M358.83,444V438.5 M369.67,444V438.5 M380.50,444V438.5 M391.33,444V438.5 M402.17,444V438.5 M413.00,444V434 M423.83,444V438.5 M434.67,444V438.5 M445.50,444V438.5 M456.33,444V438.5 M467.17,444V438.5 M478.00,444V434 M488.83,444V438.5 M499.67,444V438.5 M510.50,444V438.5 M521.33,444V438.5 M532.17,444V438.5 M543.00,444V434 M553.83,444V438.5 M564.67,444V438.5 M575.50,444V438.5 M586.33,444V438.5 M597.17,444V438.5 M608.00,444V434 M618.83,444V438.5 M629.67,444V438.5 M640.50,444V438.5 M651.33,444V438.5 M662.17,444V438.5 M88,47.50H93.5 M88,34.10H93.5 M88,25.03H93.5 M88,18.16H93.5 M88,12.63H93.5 M88,73.60H98 M88,113.10H93.5 M88,99.70H93.5 M88,90.63H93.5 M88,83.76H93.5 M88,78.23H93.5 M88,139.20H98 M88,178.70H93.5 M88,165.30H93.5 M88,156.23H93.5 M88,149.36H93.5 M88,143.83H93.5 M88,204.80H98 M88,244.30H93.5 M88,230.90H93.5 M88,221.83H93.5 M88,214.96H93.5 M88,209.43H93.5 M88,270.40H98 M88,309.90H93.5 M88,296.50H93.5 M88,287.43H93.5 M88,280.56H93.5 M88,275.03H93.5 M88,336.00H98 M88,375.50H93.5 M88,362.10H93.5 M88,353.03H93.5 M88,346.16H93.5 M88,340.63H93.5 M88,401.60H98 M88,441.10H93.5 M88,427.70H93.5 M88,418.63H93.5 M88,411.76H93.5 M88,406.23H93.5" stroke="#000" stroke-width="2" fill="none"/>
<rect x="88" y="8" width="585" height="436" fill="none" stroke="#000" stroke-width="2"/>
<text x="378" y="500" font-size="26" text-anchor="middle">E,V vs (Ag/AgCl)</text>
<text transform="translate(26,222) rotate(-90)" font-size="26" text-anchor="middle">I, A/cm<tspan dy="-11" font-size="16">2</tspan></text>
</svg>
</body></html>
